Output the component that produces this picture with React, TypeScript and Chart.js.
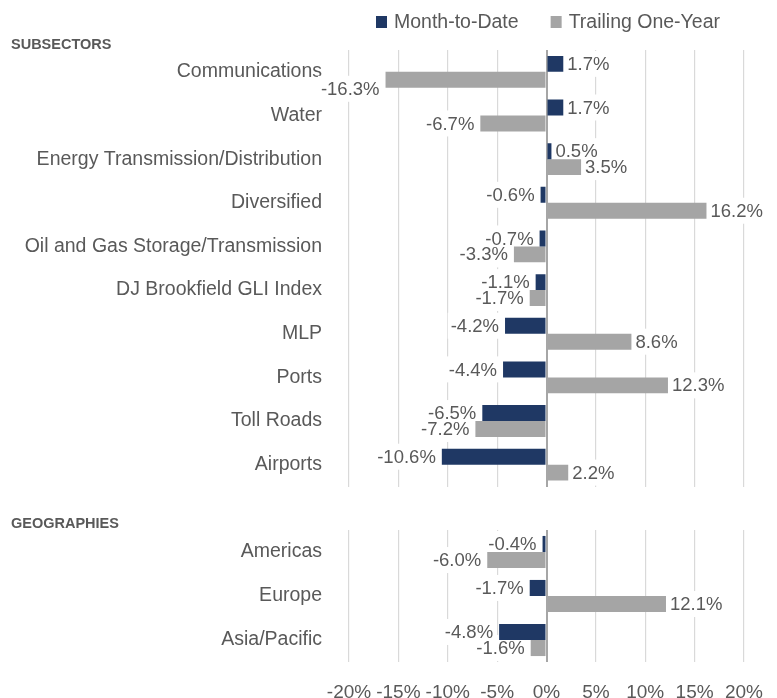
import React, { useEffect, useRef } from 'react';
import { Chart, registerables } from 'chart.js';

Chart.register(...registerables);

// ---------- data ----------
const SERIES_NAMES = ['Month-to-Date', 'Trailing One-Year'];
const SERIES_COLORS = ['#1F3864', '#A5A5A5'];

const SUB_TITLE = 'SUBSECTORS';
const SUB_CATEGORIES = [
  'Communications',
  'Water',
  'Energy Transmission/Distribution',
  'Diversified',
  'Oil and Gas Storage/Transmission',
  'DJ Brookfield GLI Index',
  'MLP',
  'Ports',
  'Toll Roads',
  'Airports',
];
const SUB_MTD = [1.7, 1.7, 0.5, -0.6, -0.7, -1.1, -4.2, -4.4, -6.5, -10.6];
const SUB_TOY = [-16.3, -6.7, 3.5, 16.2, -3.3, -1.7, 8.6, 12.3, -7.2, 2.2];

const GEO_TITLE = 'GEOGRAPHIES';
const GEO_CATEGORIES = ['Americas', 'Europe', 'Asia/Pacific'];
const GEO_MTD = [-0.4, -1.7, -4.8];
const GEO_TOY = [-6.0, 12.1, -1.6];

const X_TICKS = [-20, -15, -10, -5, 0, 5, 10, 15, 20];

// ---------- styles ----------
const FONT = '"Liberation Sans", Arial, sans-serif';
const TEXT = '#595959';
const W = 777;
// label nudges (chart | dataset index | category index) -> px
const LABEL_NUDGE: Record<string, number> = { 'sub|1|0': 9 };

function drawValueLabels(chart: any, phase: 'bg' | 'text', key: string) {
  const ctx = chart.ctx;
  ctx.save();
  ctx.font = `18.5px ${FONT}`;
  chart.data.datasets.forEach((ds: any, di: number) => {
    const meta = chart.getDatasetMeta(di);
    meta.data.forEach((bar: any, i: number) => {
      const v = ds.data[i] as number;
      const txt = v.toFixed(1) + '%';
      const w = ctx.measureText(txt).width;
      const pos = v >= 0;
      const x = pos ? bar.x + 4 : bar.x - 6;
      const y = bar.y + (LABEL_NUDGE[`${key}|${di}|${i}`] || 0);
      const left = pos ? x : x - w;
      if (phase === 'bg') {
        ctx.fillStyle = '#ffffff';
        ctx.fillRect(left - 3, y - 13, w + 6, 26);
      } else {
        ctx.fillStyle = TEXT;
        ctx.textAlign = pos ? 'left' : 'right';
        ctx.textBaseline = 'middle';
        ctx.fillText(txt, x, y + 1);
      }
    });
  });
  ctx.restore();
}

function makePlugin(key: string, title: string, titleY: number, withLegend: boolean) {
  return {
    id: 'custom_' + key,
    beforeDatasetsDraw(chart: any) {
      drawValueLabels(chart, 'bg', key);
    },
    afterDatasetsDraw(chart: any) {
      drawValueLabels(chart, 'text', key);
    },
    afterDraw(chart: any) {
      const ctx = chart.ctx;
      ctx.save();
      ctx.fillStyle = TEXT;
      ctx.font = `bold 14.5px ${FONT}`;
      ctx.textAlign = 'left';
      ctx.textBaseline = 'middle';
      ctx.fillText(title, 11, titleY);
      if (withLegend) {
        ctx.font = `19.5px ${FONT}`;
        let x = 376;
        const cy = 22;
        chart.data.datasets.forEach((ds: any) => {
          ctx.fillStyle = ds.backgroundColor;
          ctx.fillRect(x, cy - 6, 11, 12);
          x += 18;
          ctx.fillStyle = TEXT;
          ctx.fillText(ds.label, x, cy + 1);
          x += ctx.measureText(ds.label).width + 32;
        });
      }
      ctx.restore();
    },
  };
}

function buildConfig(
  key: string,
  labels: string[],
  mtd: number[],
  toy: number[],
  title: string,
  titleY: number,
  withLegend: boolean,
  showTicks: boolean,
  padTop: number,
  padBottom: number,
  xHeight: number
): any {
  return {
    type: 'bar',
    data: {
      labels,
      datasets: [
        { label: SERIES_NAMES[0], data: mtd, backgroundColor: SERIES_COLORS[0] },
        { label: SERIES_NAMES[1], data: toy, backgroundColor: SERIES_COLORS[1] },
      ],
    },
    options: {
      indexAxis: 'y',
      animation: false,
      responsive: false,
      events: [],
      layout: { padding: { top: padTop, bottom: padBottom, left: 0, right: 33 } },
      datasets: { bar: { categoryPercentage: 0.73, barPercentage: 1 } },
      plugins: {
        legend: { display: false },
        tooltip: { enabled: false },
        title: { display: false },
      },
      scales: {
        x: {
          min: -20,
          max: 20,
          afterBuildTicks: (s: any) => {
            s.ticks = X_TICKS.map((v) => ({ value: v }));
          },
          ticks: {
            display: showTicks,
            callback: (v: any) => v + '%',
            font: { family: FONT, size: 19 },
            color: TEXT,
            padding: 19,
            maxRotation: 0,
            autoSkip: false,
          },
          grid: {
            drawTicks: false,
            color: (c: any) => (c.tick && c.tick.value === 0 ? '#A6A6A6' : '#D9D9D9'),
            lineWidth: (c: any) => (c.tick && c.tick.value === 0 ? 2 : 1.2),
          },
          border: { display: false },
          afterFit: (s: any) => {
            s.height = xHeight;
            s.paddingLeft = 0;
            s.paddingRight = 0;
          },
        },
        y: {
          ticks: {
            font: { family: FONT, size: 19.5 },
            color: TEXT,
            padding: 27,
            autoSkip: false,
          },
          grid: { display: false, drawTicks: false },
          border: { display: false },
          afterFit: (s: any) => {
            s.width = 349;
            s.paddingTop = 0;
            s.paddingBottom = 0;
          },
        },
      },
    },
    plugins: [makePlugin(key, title, titleY, withLegend)],
  };
}

export default function App() {
  const ref1 = useRef<HTMLCanvasElement>(null);
  const ref2 = useRef<HTMLCanvasElement>(null);

  useEffect(() => {
    const c1 = new Chart(
      ref1.current as HTMLCanvasElement,
      buildConfig('sub', SUB_CATEGORIES, SUB_MTD, SUB_TOY, SUB_TITLE, 45, true, false, 50, 3.5, 0)
    );
    const c2 = new Chart(
      ref2.current as HTMLCanvasElement,
      buildConfig('geo', GEO_CATEGORIES, GEO_MTD, GEO_TOY, GEO_TITLE, 34, false, true, 40, 0, 36)
    );
    return () => {
      c1.destroy();
      c2.destroy();
    };
  }, []);

  return (
    <div style={{ position: 'absolute', left: 0, top: 0, width: W, height: 698, background: '#fff' }}>
      <canvas
        ref={ref1}
        width={W}
        height={490}
        style={{ position: 'absolute', left: 0, top: 0, width: W, height: 490, display: 'block' }}
      />
      <canvas
        ref={ref2}
        width={W}
        height={208}
        style={{ position: 'absolute', left: 0, top: 490, width: W, height: 208, display: 'block' }}
      />
    </div>
  );
}
